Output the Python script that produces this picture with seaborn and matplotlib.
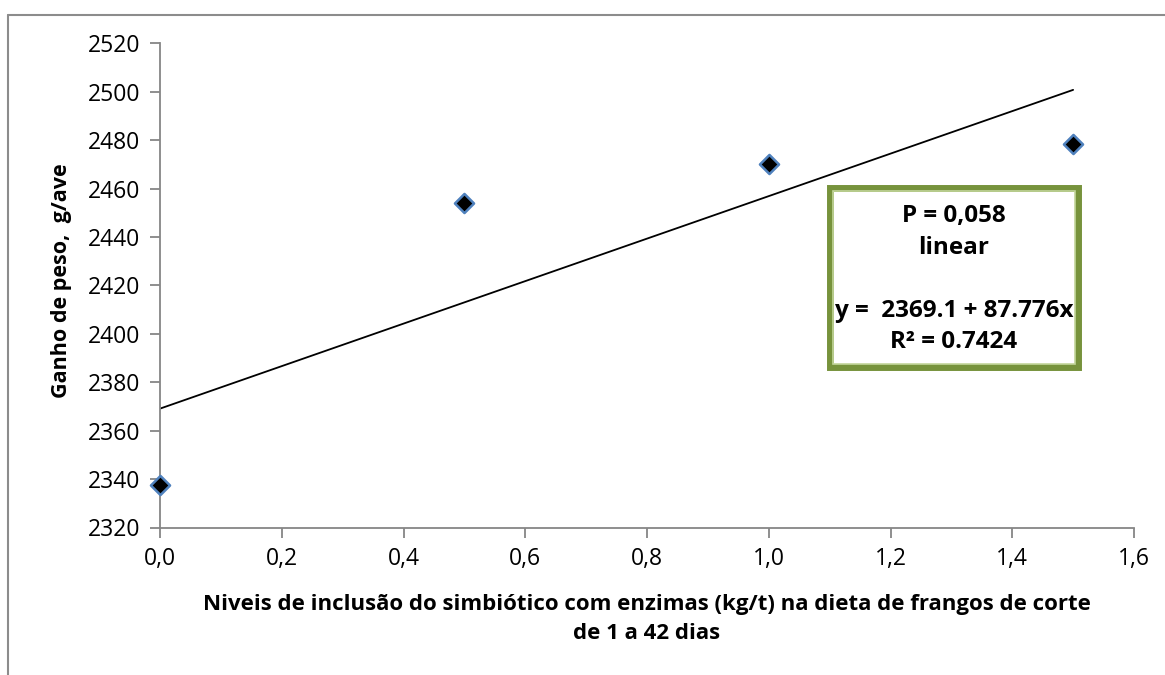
import matplotlib
matplotlib.use("Agg")
import matplotlib.pyplot as plt
import seaborn as sns
import pandas as pd
import numpy as np
from matplotlib.patches import Rectangle
from matplotlib.lines import Line2D

# Data
niveis = [0.0, 0.5, 1.0, 1.5]
ganho = [2337.5, 2454.0, 2470.0, 2478.4]
intercepto = 2369.1
inclinacao = 87.776
y_ticks = [2320, 2340, 2360, 2380, 2400, 2420, 2440, 2460, 2480, 2500, 2520]
x_ticks = [0.0, 0.2, 0.4, 0.6, 0.8, 1.0, 1.2, 1.4, 1.6]
x_tick_labels = ["0,0", "0,2", "0,4", "0,6", "0,8", "1,0", "1,2", "1,4", "1,6"]
box_lines = ["P = 0,058", "linear", "", "y =  2369.1 + 87.776x", "R² = 0.7424"]
x_label = "Niveis de inclusão do simbiótico com enzimas (kg/t) na dieta de frangos de corte\nde 1 a 42 dias"
y_label = "Ganho de peso,  g/ave"

sns.set_theme(style="white")
plt.rcParams['font.family'] = ['Open Sans', 'DejaVu Sans']
plt.rcParams['text.color'] = 'black'

W, H = 1165, 675
fig = plt.figure(figsize=(W / 100, H / 100), dpi=100)
ax = fig.add_axes([160 / W, 1 - 527.5 / H, (1134 - 160) / W, (527.5 - 43.3) / H])

df = pd.DataFrame({"x": niveis, "y": ganho})
xs = np.array([min(niveis), max(niveis)])
line_df = pd.DataFrame({"x": xs, "y": intercepto + inclinacao * xs})

sns.lineplot(data=line_df, x="x", y="y", ax=ax, color="black", linewidth=1.3, zorder=2)
sns.scatterplot(data=df, x="x", y="y", ax=ax, marker="D", s=95, color="black",
                edgecolor="#4F81BD", linewidth=1.8, zorder=3, clip_on=False)

ax.set_xlim(0, 1.6)
ax.set_ylim(2320, 2520)
ax.set_xticks(x_ticks)
ax.set_xticklabels(x_tick_labels)
ax.set_yticks(y_ticks)
ax.set_yticklabels([str(v) for v in y_ticks])
ax.tick_params(axis="both", labelsize=16.5, colors="#868686", labelcolor="black",
               length=7, width=1.3, direction="out", left=True, bottom=True, pad=7)
for s in ["top", "right"]:
    ax.spines[s].set_visible(False)
for s in ["left", "bottom"]:
    ax.spines[s].set_color("#868686")
    ax.spines[s].set_linewidth(1.3)

ax.set_xlabel("")
ax.set_ylabel("")
fig.text(647 / W, 1 - 619 / H, x_label, ha="center", va="center", fontsize=16,
         fontweight="bold", linespacing=1.45, color="black")
fig.text(61 / W, 1 - 281 / H, y_label, ha="center", va="center", rotation=90,
         fontsize=15.5, fontweight="bold", color="black")

# Outer chart border
fig.add_artist(Line2D([8 / W, 8 / W], [0, 1 - 15 / H], transform=fig.transFigure,
                      color="#8c8c8c", linewidth=1.5))
fig.add_artist(Line2D([8 / W, 1], [1 - 15 / H, 1 - 15 / H], transform=fig.transFigure,
                      color="#8c8c8c", linewidth=1.5))

# Annotation box
bx0, by0, bx1, by1 = 830, 188, 1078, 367
fig.add_artist(Rectangle((bx0 / W, 1 - by1 / H), (bx1 - bx0) / W, (by1 - by0) / H,
                         transform=fig.transFigure, facecolor="white",
                         edgecolor="#77933C", linewidth=5, zorder=5))
fig.add_artist(Rectangle(((bx0 + 3) / W, 1 - (by1 - 3) / H), (bx1 - bx0 - 6) / W, (by1 - by0 - 6) / H,
                         transform=fig.transFigure, facecolor="none",
                         edgecolor="#C3D69B", linewidth=1.2, zorder=6))
ys = [216, 248, 280, 311, 342]
for t, yy in zip(box_lines, ys):
    if t:
        fig.text(954 / W, 1 - yy / H, t, ha="center", va="center", fontsize=17.5,
                 fontweight="bold", zorder=7, color="black")

fig.savefig("out.png", dpi=100)
